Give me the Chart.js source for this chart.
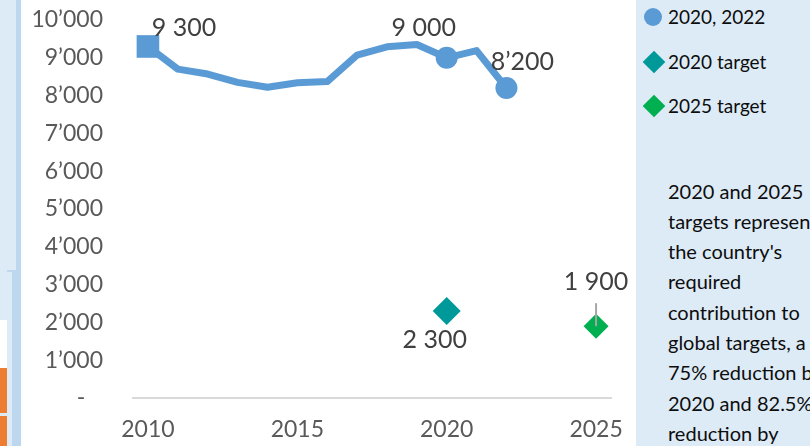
<!DOCTYPE html>
<html>
<head>
<meta charset="utf-8">
<script src="https://cdn.jsdelivr.net/npm/chart.js@4"></script>
<style>
  html, body { margin: 0; padding: 0; width: 810px; height: 446px; overflow: hidden; background: #fff; font-family: Lato, sans-serif; }
  .deco { position: absolute; }
  #chartBox { position: absolute; left: 21px; top: 0; width: 615px; height: 446px; }
  #side { position: absolute; left: 636px; top: 0; width: 174px; height: 446px; background: #ddebf7; color: #0d0d0d; overflow: hidden; }
  .lg { position: absolute; left: 32px; font-size: 19px; line-height: 22px; }
  .sym { position: absolute; }
  #note { position: absolute; left: 32px; top: 175.5px; font-size: 20px; line-height: 30.3px; white-space: nowrap; }
</style>
</head>
<body>
<!-- bouts de la feuille Excel visibles à gauche -->
<div class="deco" style="left:0;top:0;width:16px;height:272px;background:#ddebf7"></div>
<div class="deco" style="left:7px;top:270px;width:9px;height:2px;background:#bdd7ee"></div>
<div class="deco" style="left:0;top:272px;width:12px;height:174px;background:#ddebf7"></div>
<div class="deco" style="left:0;top:320px;width:7px;height:48px;background:#fff"></div>
<div class="deco" style="left:0;top:368px;width:7px;height:45px;background:#ed7d31"></div>
<div class="deco" style="left:0;top:416px;width:7px;height:30px;background:#ed7d31"></div>
<div class="deco" style="left:16px;top:0;width:5px;height:272px;background:#bdd7ee"></div>
<div class="deco" style="left:12px;top:272px;width:9px;height:174px;background:#bdd7ee"></div>

<div id="chartBox"><canvas id="c" width="615" height="446"></canvas></div>

<div id="side">
  <div class="sym" style="left:8px;top:8px;width:18px;height:18px;border-radius:50%;background:#5b9bd5"></div>
  <div class="lg" style="top:6px">2020, 2022</div>
  <div class="sym" style="left:10px;top:54px;width:16px;height:16px;transform:rotate(45deg);background:#009999"></div>
  <div class="lg" style="top:51px">2020 target</div>
  <div class="sym" style="left:10px;top:98px;width:16px;height:16px;transform:rotate(45deg);background:#00b050"></div>
  <div class="lg" style="top:95px">2025 target</div>
  <div id="note">2020 and 2025<br>targets represent<br>the country's<br>required<br>contribution to<br>global targets, a<br>75% reduction by<br>2020 and 82.5%<br>reduction by</div>
</div>

<script>
const years = ['2010', '2011', '2012', '2013', '2014', '2015', '2016', '2017',
  '2018', '2019', '2020', '2021', '2022', '2023', '2024', '2025'];
const emissions = [9300, 8700, 8570, 8350, 8220, 8340, 8370, 9070,
  9290, 9350, 9000, 9190, 8200, null, null, null];
const target2020 = [null, null, null, null, null, null, null, null,
  null, null, 2300, null, null, null, null, null];
const target2025 = [null, null, null, null, null, null, null, null,
  null, null, null, null, null, null, null, 1900];
const yTicks = [0, 1000, 2000, 3000, 4000, 5000, 6000, 7000, 8000, 9000, 10000];

// étiquettes de données: [dataset, index, texte, décalage x, décalage y, trait de rappel]
const dataLabels = [
  [0, 0, '9 300', 36, -19, false],
  [0, 10, '9 000', -23, -30, false],
  [0, 12, '8\u2019200', 16, -26, false],
  [1, 10, '2 300', -12, 29, false],
  [2, 15, '1 900', 0, -44, true],
];

const BLUE = '#5b9bd5';
const fmtThousands = (v) => (v === 0 ? '-   ' : String(v).replace(/\B(?=(\d{3})+(?!\d))/g, '\u2019'));

const labelPlugin = {
  id: 'pointLabels',
  afterDatasetsDraw(chart) {
    const ctx = chart.ctx;
    ctx.save();
    ctx.font = '25px Lato';
    ctx.fillStyle = '#404040';
    ctx.textAlign = 'center';
    ctx.textBaseline = 'middle';
    dataLabels.forEach(([ds, i, text, dx, dy, leader]) => {
      const pt = chart.getDatasetMeta(ds).data[i];
      if (!pt) return;
      if (leader) {
        ctx.strokeStyle = '#a6a6a6';
        ctx.lineWidth = 2;
        ctx.beginPath();
        ctx.moveTo(pt.x, pt.y + dy + 21);
        ctx.lineTo(pt.x, pt.y);
        ctx.stroke();
      }
      ctx.fillText(text, pt.x + dx, pt.y + dy);
    });
    ctx.restore();
  },
};

new Chart(document.getElementById('c'), {
  type: 'line',
  data: {
    labels: years,
    datasets: [
      {
        label: '2020, 2022', data: emissions,
        borderColor: BLUE, backgroundColor: BLUE, borderWidth: 7,
        borderJoinStyle: 'round', borderCapStyle: 'round', tension: 0,
        pointStyle: emissions.map((v, i) => (i === 0 ? 'rect' : 'circle')),
        pointRadius: emissions.map((v, i) => (i === 0 ? 16 : (i === 10 || i === 12 ? 11 : 0))),
        pointBorderWidth: 0, pointHoverRadius: 0,
      },
      {
        label: '2020 target', data: target2020, showLine: false,
        pointStyle: 'rectRot', pointRadius: 14, pointBorderWidth: 0,
        backgroundColor: '#009999', borderColor: '#009999',
      },
      {
        label: '2025 target', data: target2025, showLine: false,
        pointStyle: 'rectRot', pointRadius: 12.5, pointBorderWidth: 0,
        backgroundColor: '#00b050', borderColor: '#00b050',
      },
    ],
  },
  options: {
    responsive: false, animation: false, devicePixelRatio: 1,
    layout: { padding: { top: 20, right: 25, left: 0, bottom: 0 } },
    plugins: { legend: { display: false }, tooltip: { enabled: false } },
    scales: {
      x: {
        type: 'category', offset: true,
        grid: { display: false, drawTicks: false },
        border: { display: true, color: '#d9d9d9', width: 2 },
        ticks: {
          autoSkip: false, maxRotation: 0, padding: 18,
          color: '#595959', font: { family: 'Lato', size: 23 },
          callback: (v, i) => (Number(years[i]) % 5 === 0 ? years[i] : ''),
        },
        afterFit: (s) => { s.height = 48; s.paddingLeft = 0; s.paddingRight = 0; },
      },
      y: {
        min: 0, max: 10000,
        grid: { display: false, drawTicks: false },
        border: { display: false },
        afterBuildTicks: (s) => { s.ticks = yTicks.map((v) => ({ value: v })); },
        ticks: {
          padding: 30, color: '#595959', font: { family: 'Lato', size: 23 },
          callback: fmtThousands,
        },
        afterFit: (s) => { s.width = 112; s.paddingTop = 0; s.paddingBottom = 0; },
      },
    },
  },
  plugins: [labelPlugin],
});
</script>
</body>
</html>
